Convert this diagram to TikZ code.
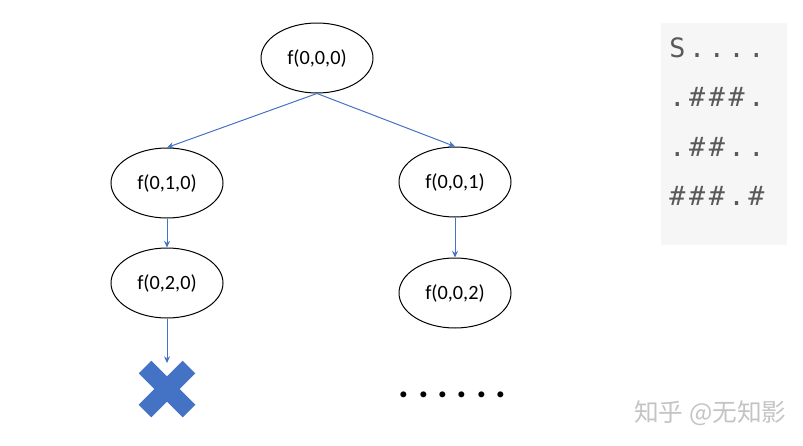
\documentclass[tikz,border=0pt]{standalone}
\usepackage{fontspec}
\setmainfont{Carlito}
\newfontfamily\gridfont[LetterSpace=14]{DejaVu Sans Mono}
\newfontfamily\cjkfont{Noto Sans CJK SC}
\usetikzlibrary{shapes.geometric,arrows.meta,calc}
\definecolor{edgeblue}{HTML}{4472C4}
\definecolor{gridbg}{HTML}{F6F6F6}
\definecolor{gridtxt}{HTML}{595959}
\definecolor{wmark}{HTML}{C4C4C4}
\newcommand\pdot{\makebox[14.55pt]{.}}
\begin{document}
\begin{tikzpicture}[x=0.75pt,y=-0.75pt,
  state/.style={ellipse,draw=black,line width=0.75pt,fill=white,minimum width=84pt,minimum height=52.5pt,inner sep=0pt,font=\fontsize{15.2}{18}\selectfont},
  edge/.style={draw=edgeblue,line width=0.75pt,-{Stealth[length=5pt,width=4.5pt]}},
  gridrow/.style={anchor=base west,inner sep=0pt,text=gridtxt,font=\gridfont\fontsize{20}{24}\selectfont}]
\useasboundingbox (0,0) rectangle (803,446);
% tree
\node[state] (r) at (317,58) {f(0,0,0)};
\node[state] (a) at (167,183) {f(0,1,0)};
\node[state] (b) at (455,182) {f(0,0,1)};
\node[state] (c) at (167,283) {f(0,2,0)};
\node[state] (d) at (455,293) {f(0,0,2)};
\coordinate (x) at (167,389);
\coordinate (xt) at (167,363);
\draw[edge] (r.south) -- (a.north);
\draw[edge] (r.south) -- (b.north);
\draw[edge] (a.south) -- (c.north);
\draw[edge] (b.south) -- (d.north);
\draw[edge] (c.south) -- (xt);
% cross
\draw[edgeblue,line width=13.3pt] ($(x)+(-22,-22)$) -- ($(x)+(22,22)$);
\draw[edgeblue,line width=13.3pt] ($(x)+(22,-22)$) -- ($(x)+(-22,22)$);
% dots
\node[anchor=base,inner sep=0pt,font=\fontsize{30}{30}\bfseries\selectfont] (dots) at (452.5,397) {\pdot\pdot\pdot\pdot\pdot\pdot};
% grid panel
\fill[gridbg] (661,23) rectangle (787,245);
\node[gridrow] (g1) at (669,57) {S....};
\node[gridrow] (g2) at (669,106) {.\#\#\#.};
\node[gridrow] (g3) at (669,156) {.\#\#..};
\node[gridrow] (g4) at (669,205) {\#\#\#.\#};
% watermark
\node[anchor=west,inner sep=0pt,text=wmark,font=\cjkfont\fontsize{18.5}{22}\selectfont] (wm) at (634,413) {知乎 @无知影};
\end{tikzpicture}
\end{document}
